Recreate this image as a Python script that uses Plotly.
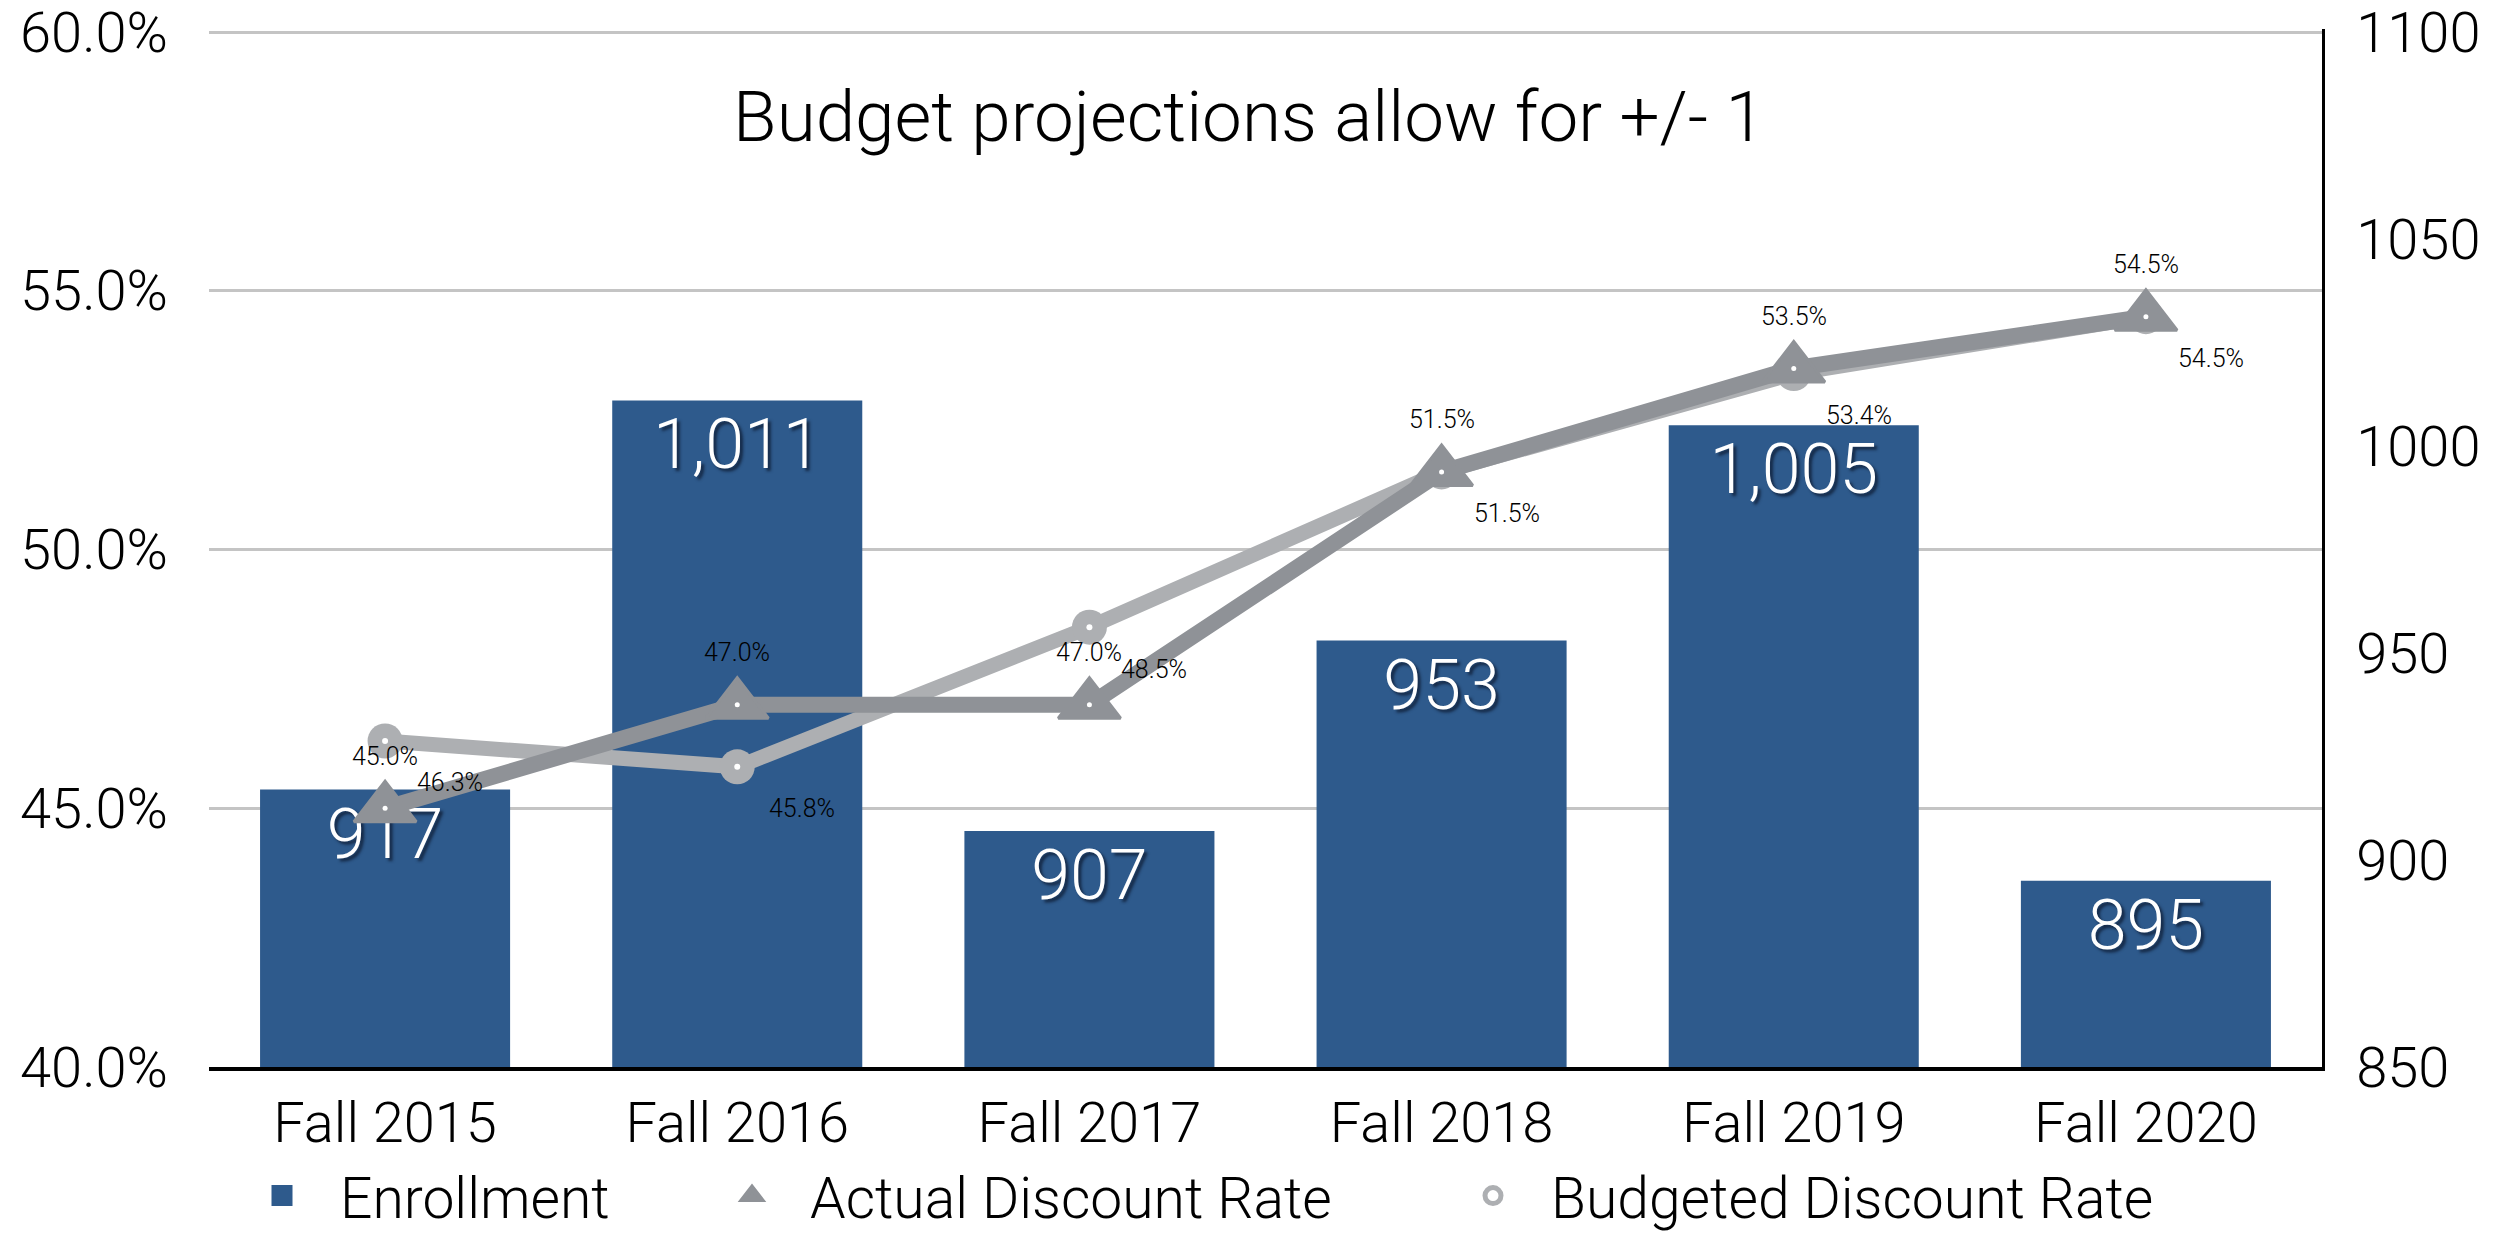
import plotly.graph_objects as go

# Enrollment and discount-rate history
terms = ["Fall 2015", "Fall 2016", "Fall 2017", "Fall 2018", "Fall 2019", "Fall 2020"]
enrollment = [917, 1011, 907, 953, 1005, 895]
actual_rate = [45.0, 47.0, 47.0, 51.5, 53.5, 54.5]
budgeted_rate = [46.3, 45.8, 48.5, 51.5, 53.4, 54.5]
rate_ticks = [40, 45, 50, 55, 60]
enroll_ticks = [850, 900, 950, 1000, 1050, 1100]

FONT = "Roboto"
BLUE = "#2e5a8c"
DARK_GREY = "#8f9297"
LIGHT_GREY = "#adafb2"

# Plot box: the top edge sits a few pixels above the 60% / 1100 gridline
TOP, BOTTOM = 29, 173
PLOT_H = 1240 - TOP - BOTTOM
PX_PER_PCT = (PLOT_H - 3) / (rate_ticks[-1] - rate_ticks[0])
PX_PER_STUDENT = (PLOT_H - 3) / (enroll_ticks[-1] - enroll_ticks[0])
rate_range = [rate_ticks[0], rate_ticks[0] + PLOT_H / PX_PER_PCT]
enroll_range = [enroll_ticks[0], enroll_ticks[0] + PLOT_H / PX_PER_STUDENT]

fig = go.Figure()

# Enrollment bars (right-hand scale)
fig.add_trace(go.Bar(
    x=terms, y=enrollment, yaxis="y",
    marker=dict(color=BLUE, line=dict(width=0)),
    text=[f"{v:,}" for v in enrollment],
    textposition="inside", insidetextanchor="end", textangle=0,
    textfont=dict(family=FONT, size=70, color="white", weight=300,
                  shadow="3px 3px 3px rgba(10,20,40,0.7)"),
    showlegend=False, hoverinfo="skip",
))

# Budgeted discount rate line
fig.add_trace(go.Scatter(
    x=terms, y=budgeted_rate, yaxis="y2", mode="lines+markers",
    line=dict(color=LIGHT_GREY, width=15),
    marker=dict(symbol="circle", size=35, color=LIGHT_GREY),
    showlegend=False, hoverinfo="skip",
))
fig.add_trace(go.Scatter(
    x=terms, y=budgeted_rate, yaxis="y2", mode="markers",
    marker=dict(symbol="circle", size=6, color="white"),
    showlegend=False, hoverinfo="skip",
))

# Actual discount rate line
fig.add_trace(go.Scatter(
    x=terms, y=actual_rate, yaxis="y2", mode="lines+markers",
    line=dict(color=DARK_GREY, width=16),
    marker=dict(symbol="triangle-up", size=54, color=DARK_GREY,
                line=dict(color=DARK_GREY, width=3)),
    showlegend=False, hoverinfo="skip",
))
fig.add_trace(go.Scatter(
    x=terms, y=actual_rate, yaxis="y2", mode="markers",
    marker=dict(symbol="circle", size=5, color="white"),
    showlegend=False, hoverinfo="skip",
))

# Legend entries, one legend box each so they can be spaced freely
fig.add_trace(go.Scatter(
    x=[None], y=[None], yaxis="y2", mode="markers", name="Enrollment", legend="legend",
    marker=dict(symbol="square", size=16, color=BLUE, line=dict(color=BLUE, width=5)),
))
fig.add_trace(go.Scatter(
    x=[None], y=[None], yaxis="y2", mode="markers", name="Actual Discount Rate", legend="legend2",
    marker=dict(symbol="triangle-up", size=16, color=DARK_GREY, line=dict(color=DARK_GREY, width=5)),
))
fig.add_trace(go.Scatter(
    x=[None], y=[None], yaxis="y2", mode="markers", name="Budgeted Discount Rate", legend="legend3",
    marker=dict(symbol="circle-open", size=16, color=LIGHT_GREY, line=dict(color=LIGHT_GREY, width=5)),
))

# Point labels
label_font = dict(family=FONT, size=25, color="black", weight=300)
for t, v in zip(terms, actual_rate):
    fig.add_annotation(x=t, y=v, xref="x", yref="y2", text=f"{v:.1f}%",
                       showarrow=False, yshift=52, font=label_font)
for t, v in zip(terms, budgeted_rate):
    fig.add_annotation(x=t, y=v, xref="x", yref="y2", text=f"{v:.1f}%",
                       showarrow=False, xshift=65, yshift=-42, font=label_font)

legend_style = dict(orientation="h", xref="container", xanchor="left",
                    yref="container", y=-18 / 1240, yanchor="bottom",
                    font=dict(family=FONT, size=57, color="black", weight=300),
                    itemwidth=106, bgcolor="rgba(0,0,0,0)")

fig.update_layout(
    width=2516, height=1240,
    margin=dict(l=209, r=194, t=TOP, b=BOTTOM, autoexpand=False),
    paper_bgcolor="white", plot_bgcolor="white",
    font=dict(family=FONT, size=56, color="black", weight=300),
    bargap=0.29,
    title=dict(text="Budget projections allow for +/- 1",
               font=dict(family=FONT, size=71, color="black", weight=300),
               xref="container", x=0.4964, xanchor="center",
               yref="container", y=0.9065, yanchor="middle"),
    xaxis=dict(showgrid=False, showline=True, linecolor="black", linewidth=4,
               ticks="", ticklabelstandoff=4, zeroline=False),
    yaxis=dict(side="right", range=enroll_range, tickvals=enroll_ticks,
               showgrid=False, showline=True, linecolor="black", linewidth=3,
               zeroline=False, ticks="", ticklabelstandoff=20,
               ticklabeloverflow="allow"),
    yaxis2=dict(side="left", overlaying="y", range=rate_range, tickvals=rate_ticks,
                ticktext=[f"{v:.1f}%" for v in rate_ticks],
                showgrid=True, gridcolor="#c4c4c4", gridwidth=3, showline=False,
                zeroline=False, ticks="", ticklabelstandoff=40,
                ticklabeloverflow="allow"),
    legend=dict(legend_style, x=224 / 2516),
    legend2=dict(legend_style, x=694 / 2516),
    legend3=dict(legend_style, x=1435 / 2516),
)

fig.write_html("out.html")
